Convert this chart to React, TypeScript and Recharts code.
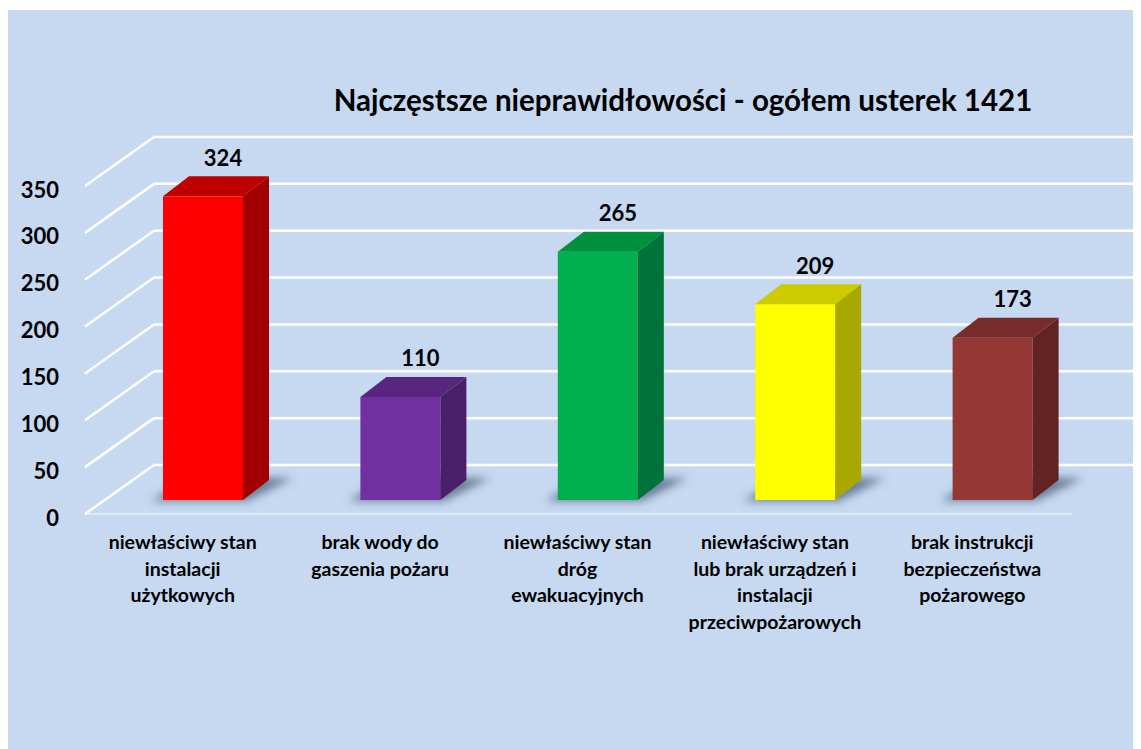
import { Bar, BarChart, CartesianGrid, LabelList, XAxis, YAxis } from 'recharts';

const categories = [
  ['niewłaściwy stan', 'instalacji', 'użytkowych'],
  ['brak wody do', 'gaszenia pożaru'],
  ['niewłaściwy stan', 'dróg', 'ewakuacyjnych'],
  ['niewłaściwy stan', 'lub brak urządzeń i', 'instalacji', 'przeciwpożarowych'],
  ['brak instrukcji', 'bezpieczeństwa', 'pożarowego'],
];
const values = [324, 110, 265, 209, 173];
const frontColors = ['#FF0000', '#7030A0', '#00B050', '#FFFF00', '#953735'];
const topColors = ['#C00000', '#58267F', '#00913F', '#CCCC00', '#772B2A'];
const sideColors = ['#A20000', '#4A1F6A', '#00733A', '#A8A800', '#632322'];
const yTicks = [0, 50, 100, 150, 200, 250, 300, 350];
const title = 'Najczęstsze nieprawidłowości - ogółem usterek 1421';

const data = categories.map((lines, i) => ({
  name: lines.join(' '),
  lines,
  value: values[i],
  front: frontColors[i],
  top: topColors[i],
  side: sideColors[i],
}));

const W = 1133;
const H = 739;
const MARGIN = { top: 162, right: 50, bottom: 219, left: 36 };
const PLOT_LEFT = 96;
const PLOT_BOTTOM = H - MARGIN.bottom - 30;
// 3d offsets, relative to the plane of the bars' front faces
const DEPTH = { x: 26, y: -20 };
const BACK = { x: 50, y: -35 };
const FRONT = { x: -19, y: 14 };
const FONT = 'Lato, "Open Sans", sans-serif';

const GridLine = (props: any) => {
  const { x1, x2, y1 } = props;
  const isFloor = Math.abs(y1 - PLOT_BOTTOM) < 1;
  return (
    <g>
      <line x1={x1 + BACK.x} y1={y1 + BACK.y} x2={x2 + BACK.x} y2={y1 + BACK.y} stroke="#fff" strokeWidth={2.5} />
      <line x1={x1 + FRONT.x} y1={y1 + FRONT.y} x2={x1 + BACK.x} y2={y1 + BACK.y} stroke="#fff" strokeWidth={2.5} />
      {isFloor && (
        <line x1={x1 + FRONT.x} y1={y1 + FRONT.y} x2={x2 + FRONT.x} y2={y1 + FRONT.y} stroke="#fff" strokeOpacity={0.45} strokeWidth={2} />
      )}
    </g>
  );
};

const Bar3D = (props: any) => {
  const { x, y, width, height, payload } = props;
  const r = x + width;
  const b = y + height;
  const dx = DEPTH.x;
  const dy = DEPTH.y;
  return (
    <g>
      <polygon
        points={`${x - 12},${b + 1} ${r + 4},${b + 1} ${r + dx + 24},${b + dy - 2} ${x + dx},${b + dy - 2}`}
        fill="#4a5d78"
        fillOpacity={0.75}
        filter="url(#barShadow)"
      />
      <rect x={x} y={y} width={width} height={height} fill={payload.front} />
      <polygon points={`${x},${y} ${x + dx},${y + dy} ${r + dx},${y + dy} ${r},${y}`} fill={payload.top} />
      <polygon points={`${r},${y} ${r + dx},${y + dy} ${r + dx},${b + dy} ${r},${b}`} fill={payload.side} />
    </g>
  );
};

const YTick = (props: any) => {
  const { y, payload } = props;
  return (
    <text
      x={PLOT_LEFT + FRONT.x - 26}
      y={y + FRONT.y + 3}
      textAnchor="end"
      dominantBaseline="central"
      fontFamily={FONT}
      fontWeight={700}
      fontSize={22}
      fill="#000"
    >
      {payload.value}
    </text>
  );
};

const XTick = (props: any) => {
  const { x, index } = props;
  const lines = categories[index] || [];
  return (
    <text x={x - 20} y={PLOT_BOTTOM + 43} textAnchor="middle" fontFamily={FONT} fontWeight={700} fontSize={19.5} fill="#000">
      {lines.map((l, i) => (
        <tspan key={i} x={x - 20} dy={i === 0 ? 6 : 26.5}>
          {l}
        </tspan>
      ))}
    </text>
  );
};

const ValueLabel = (props: any) => {
  const { x, y, width, value } = props;
  return (
    <text
      x={x + width / 2 + 20}
      y={y - 39}
      textAnchor="middle"
      dominantBaseline="central"
      fontFamily={FONT}
      fontWeight={700}
      fontSize={22}
      fill="#000"
    >
      {value}
    </text>
  );
};

export default function App() {
  return (
    <div style={{ paddingTop: 2 }}>
      <div style={{ position: 'relative', width: W, height: H, background: '#C6D9F1' }}>
        <div
          style={{
            position: 'absolute',
            left: 275,
            width: 800,
            top: 72,
            textAlign: 'center',
            fontFamily: FONT,
            fontWeight: 700,
            fontSize: 29.5,
            color: '#000',
            whiteSpace: 'nowrap',
          }}
        >
          {title}
        </div>
        <BarChart width={W} height={H} data={data} margin={MARGIN}>
          <defs>
            <filter id="barShadow" x="-50%" y="-200%" width="200%" height="500%">
              <feGaussianBlur stdDeviation={4} />
            </filter>
          </defs>
          <CartesianGrid horizontal={GridLine} vertical={false} />
          <XAxis dataKey="name" axisLine={false} tickLine={false} interval={0} height={30} tick={XTick} />
          <YAxis
            domain={[0, 350]}
            ticks={yTicks}
            interval={0}
            width={60}
            axisLine={false}
            tickLine={false}
            tick={YTick}
          />
          <Bar dataKey="value" barSize={80} shape={Bar3D} isAnimationActive={false}>
            <LabelList dataKey="value" content={ValueLabel} />
          </Bar>
        </BarChart>
      </div>
    </div>
  );
}
